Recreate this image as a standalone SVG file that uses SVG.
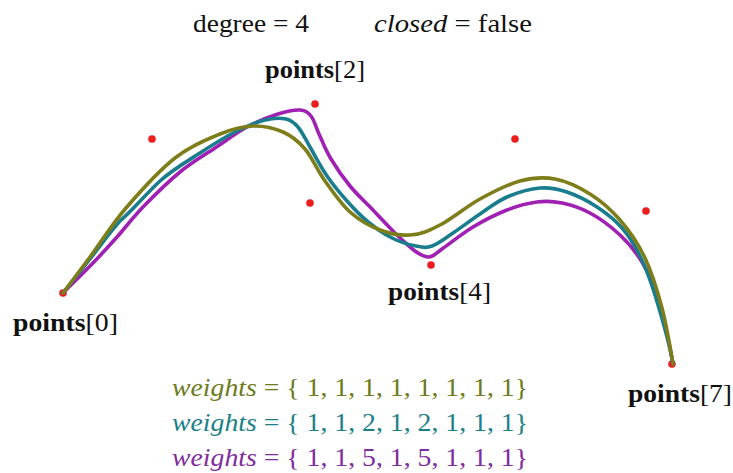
<svg xmlns="http://www.w3.org/2000/svg" width="733" height="473" viewBox="0 0 733 473">
<style>
.t{font-family:"Liberation Serif","Times New Roman",serif;font-size:26px;fill:#111}
.b{font-weight:bold}
.i{font-style:italic}
.c{fill:none;stroke-width:3.6;stroke-linejoin:round;stroke-linecap:round}
.pt{fill:#ee1c1c}
</style>
<rect width="733" height="473" fill="#fff"/>
<g id="header">
<text class="t" x="193" y="32" textLength="116" lengthAdjust="spacingAndGlyphs">degree = 4</text>
<text class="t" x="374" y="32" textLength="158" lengthAdjust="spacingAndGlyphs"><tspan class="i">closed</tspan> = false</text>
</g>
<g id="control-points">
<circle class="pt" cx="63" cy="293" r="3.8"/>
<circle class="pt" cx="152" cy="139" r="3.8"/>
<circle class="pt" cx="315" cy="104" r="3.8"/>
<circle class="pt" cx="310" cy="203" r="3.8"/>
<circle class="pt" cx="431" cy="265" r="3.8"/>
<circle class="pt" cx="515" cy="139" r="3.8"/>
<circle class="pt" cx="646" cy="211" r="3.8"/>
<circle class="pt" cx="672" cy="364" r="3.8"/>
</g>
<g id="curves">
<path id="curve-w3" class="c" stroke="#a020b4" d="M63,293 C73,283 84,272.3 93,263 C102,253.7 108.7,246.3 117,237 C125.3,227.7 132.5,217.8 143,207 C153.5,196.2 168,181.8 180,172 C192,162.2 203.8,155.5 215,148 C226.2,140.5 236.5,132.7 247,127 C257.5,121.3 269.2,116.8 278,114 C286.8,111.2 294.5,109.7 300,110 C305.5,110.3 307.8,112 311,116 C314.2,120 315.7,126.8 319,134 C322.3,141.2 325.8,150.3 331,159 C336.2,167.7 343.2,177.7 350,186 C356.8,194.3 364.8,201.5 372,209 C379.2,216.5 385.8,224 393,231 C400.2,238 409,246.7 415,251 C421,255.3 424.5,257.3 429,257 C433.5,256.7 434.7,254 442,249 C449.3,244 462.2,233.5 473,227 C483.8,220.5 496.3,214.2 507,210 C517.7,205.8 527.8,203.2 537,202 C546.2,200.8 553.2,201.2 562,203 C570.8,204.8 580.3,207.7 590,213 C599.7,218.3 611.3,226.8 620,235 C628.7,243.2 635.8,251.7 642,262 C648.2,272.3 651.8,280 657,297 C662.2,314 669.1,341.3 673,364"/>
<path id="curve-w2" class="c" stroke="#1a7d8e" d="M63,293 C72,281.7 80.5,271 90,259 C99.5,247 108.3,234 120,221 C133.3,209.7 147.5,192.3 160,181 C172.5,169.7 187.5,161.2 200,153 C212.5,144.8 224.2,137.5 235,132 C245.8,126.5 256.5,122.2 265,120 C273.5,117.8 280.5,117.8 286,119 C291.5,120.2 294,122.3 298,127 C302,131.7 305.2,138.8 310,147 C314.8,155.2 320.8,167 327,176 C333.2,185 340.3,193.5 347,201 C353.7,208.5 359.5,214.8 367,221 C374.5,227.2 383.8,233.8 392,238 C400.2,242.2 409.3,244.7 416,246 C422.7,247.3 425.8,248.2 432,246 C438.2,243.8 445,238.3 453,233 C461,227.7 471,220 480,214 C489,208 497,201.3 507,197 C517,192.7 530,188.8 540,188 C550,187.2 557.5,188.8 567,192 C576.5,195.2 587.8,201 597,207 C606.2,213 614.8,219.8 622,228 C629.2,236.2 634.5,244.8 640,256 C645.5,267.2 649.5,277 655,295 C660.5,313 669,340.6 673,364"/>
<path id="curve-w1" class="c" stroke="#7d7d1a" d="M63,293 C72,281 79.5,271.2 90,257 C100.5,242.8 111.8,224.5 126,208 C140.2,191.5 159.3,170.3 175,158 C190.7,145.7 207,139.3 220,134 C233,128.7 242.5,126.3 253,126 C263.5,125.7 274.3,128.2 283,132 C291.7,135.8 298,140.8 305,149 C312,157.2 317.5,170.5 325,181 C332.5,191.5 340.8,203.8 350,212 C359.2,220.2 370,226.2 380,230 C390,233.8 398.3,235.8 410,235 C421.7,234.2 428.3,231 440,225 C451.7,219 466.7,206.3 480,199 C493.3,191.7 507.5,184.3 520,181 C532.5,177.7 543.3,176.8 555,179 C566.7,181.2 579.2,187.2 590,194 C600.8,200.8 610.8,209.3 620,220 C629.2,230.7 638,243.3 645,258 C652,272.7 657.3,290.3 662,308 C666.7,325.7 669.8,345.3 673,364"/>
</g>
<g id="labels">
<text class="t" x="265" y="78" textLength="100" lengthAdjust="spacingAndGlyphs"><tspan class="b">points</tspan>[2]</text>
<text class="t" x="388" y="300" textLength="103" lengthAdjust="spacingAndGlyphs"><tspan class="b">points</tspan>[4]</text>
<text class="t" x="13" y="331" textLength="105" lengthAdjust="spacingAndGlyphs"><tspan class="b">points</tspan>[0]</text>
<text class="t" x="628" y="402" textLength="104" lengthAdjust="spacingAndGlyphs"><tspan class="b">points</tspan>[7]</text>
</g>
<g id="legend">
<text class="t" x="172" y="396" textLength="356" lengthAdjust="spacingAndGlyphs" style="fill:#6e7a1c"><tspan class="i">weights</tspan> = { 1, 1, 1, 1, 1, 1, 1, 1}</text>
<text class="t" x="172" y="431" textLength="356" lengthAdjust="spacingAndGlyphs" style="fill:#1c7f88"><tspan class="i">weights</tspan> = { 1, 1, 2, 1, 2, 1, 1, 1}</text>
<text class="t" x="172" y="466" textLength="356" lengthAdjust="spacingAndGlyphs" style="fill:#7f2c9e"><tspan class="i">weights</tspan> = { 1, 1, 5, 1, 5, 1, 1, 1}</text>
</g>
</svg>
